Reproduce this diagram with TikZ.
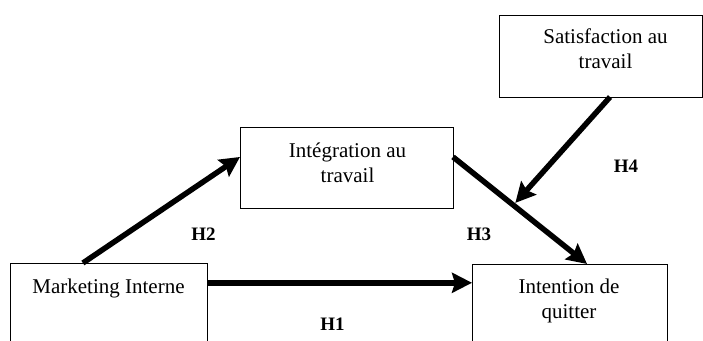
\documentclass[tikz,border=0pt]{standalone}
\usepackage{fontspec}
\setmainfont{Liberation Serif}
\usetikzlibrary{arrows.meta,calc}
\begin{document}
\begin{tikzpicture}[x=1pt,y=-1pt,
  box/.style={draw=black, line width=1pt, rectangle, inner sep=0pt, outer sep=0pt},
  txt/.style={font=\fontsize{21}{25}\selectfont, align=center, inner sep=0pt, anchor=base},
  hlab/.style={font=\fontsize{19}{22}\selectfont\bfseries, inner sep=0pt, anchor=base},
  arr/.style={line width=5.5pt, -{Stealth[length=20pt,width=20pt,inset=3pt]}}]
\useasboundingbox (0,0) rectangle (703,340);
\clip (0,0) rectangle (703,340);
% boxes
\node[box, minimum width=197pt, minimum height=110pt] (mi) at (108.5,318) {};
\node[box, minimum width=195pt, minimum height=110pt] (ie) at (569.5,319) {};
\node[box, minimum width=213pt, minimum height=81pt] (ig) at (346.5,167.5) {};
\node[box, minimum width=203pt, minimum height=82pt] (sf) at (600.5,56) {};
% texts (base anchor = baseline of the last line)
\node[txt] (mit) at (108.5,293) {Marketing Interne};
\node[txt] (igt) at (347.5,182) {Intégration au\\travail};
\node[txt] (iet) at (569,318) {Intention de\\quitter};
\node[txt] (sft) at (605.5,68) {Satisfaction au\\travail};
% arrows
\draw[arr] ($(mi.north west)!0.37!(mi.north east)$) -- ($(ig.north west)!0.37!(ig.south west)$);
\coordinate (h1s) at ($(mi.north east)!0.18!(mi.south east)$);
\draw[arr] (h1s) -- (h1s -| ie.west);
\draw[arr] ($(ig.north east)!0.37!(ig.south east)$) -- coordinate[pos=0.45] (m) ($(ie.north west)!0.59!(ie.north east)$);
\draw[arr, shorten >=3pt] ($(sf.south west)!0.547!(sf.south east)$) -- (m);
% labels
\node[hlab] (h1) at (332.5,330) {H1};
\node[hlab] (h2) at (203.5,240) {H2};
\node[hlab] (h3) at (479,240) {H3};
\node[hlab] (h4) at (626,172) {H4};
\end{tikzpicture}
\end{document}
